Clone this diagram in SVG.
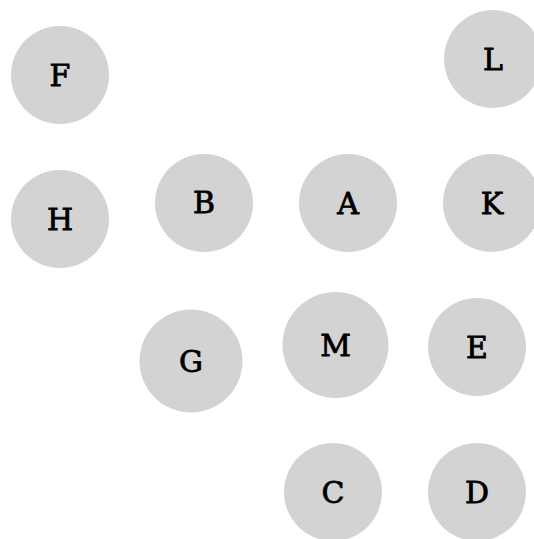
<svg xmlns="http://www.w3.org/2000/svg" width="534" height="539" viewBox="0 0 534 539">
<style>
.n circle{fill:#d3d3d3;stroke:none}
.n text{font-family:"DejaVu Serif",serif;font-size:30px;fill:#000;stroke:#000;stroke-width:0.8px;text-anchor:middle}
</style>
<rect width="534" height="539" fill="#fff"/>
<g id="connectors"></g>
<g id="F" class="n"><circle cx="60" cy="75" r="49"/><text x="60" y="86">F</text></g>
<g id="L" class="n"><circle cx="493" cy="59" r="49"/><text x="493" y="70">L</text></g>
<g id="H" class="n"><circle cx="60" cy="219" r="49"/><text x="60" y="230">H</text></g>
<g id="B" class="n"><circle cx="204" cy="203" r="49"/><text x="204" y="213">B</text></g>
<g id="A" class="n"><circle cx="348" cy="203" r="49"/><text x="348" y="214">A</text></g>
<g id="K" class="n"><circle cx="492" cy="203" r="49"/><text x="492" y="214">K</text></g>
<g id="G" class="n"><circle cx="191" cy="361" r="51.5"/><text x="191" y="372">G</text></g>
<g id="M" class="n"><circle cx="335.5" cy="345" r="53"/><text x="335.5" y="356">M</text></g>
<g id="E" class="n"><circle cx="477" cy="347" r="49"/><text x="477" y="358">E</text></g>
<g id="C" class="n"><circle cx="333" cy="492" r="49"/><text x="333" y="503">C</text></g>
<g id="D" class="n"><circle cx="477" cy="492" r="49"/><text x="477" y="503">D</text></g>
</svg>
